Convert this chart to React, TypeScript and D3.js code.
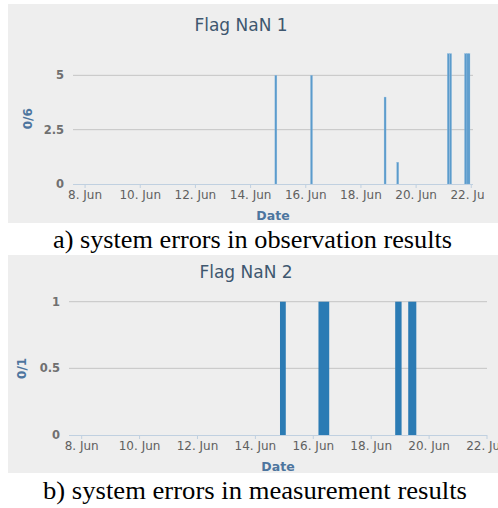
import React from "react";
import * as d3 from "d3";

// ---- data ----
const YEAR = 2016;
const MONTH = 5; // June (0-based)
const xTickDays = [8, 10, 12, 14, 16, 18, 20, 22];

// Chart 1: system errors in observation results (day, hour, count)
const obsDays = [14, 16, 18, 19, 21, 21, 21, 21, 21];
const obsHours = [22, 5, 21, 8, 4, 6, 19, 20.5, 22];
const obsValues = [5, 5, 4, 1, 6, 6, 6, 6, 6];
const obsYTicks = [0, 2.5, 5];

// Chart 2: system errors in measurement results (start/end as day + hour)
const measStartDays = [14, 16, 18, 19];
const measStartHours = [20.4, 4.3, 19.9, 6.7];
const measEndDays = [15, 16, 19, 19];
const measEndHours = [1.2, 13.2, 1.2, 13.4];
const measValues = [1, 1, 1, 1];
const measYTicks = [0, 0.5, 1];

const captions = [
  "a) system errors in observation results",
  "b) system errors in measurement results",
];
const titles = ["Flag NaN 1", "Flag NaN 2"];
const yTitles = ["0/6", "0/1"];

const dt = (d: number, h: number) => {
  const hh = Math.floor(h);
  const mm = Math.round((h - hh) * 60);
  return new Date(YEAR, MONTH, d, hh, mm);
};

const FONT = "'DejaVu Sans', Verdana, Arial, sans-serif";
const SERIF = "'Liberation Serif', 'Times New Roman', serif";
const fmt = d3.timeFormat("%-d. %b");

type PanelProps = {
  id: string;
  top: number;
  bottom: number;
  clipRight: number;
  x: d3.ScaleTime<number, number>;
  y: d3.ScaleLinear<number, number>;
  yTicks: number[];
  yFmt: (v: number) => string;
  title: string;
  titleX: number;
  titleY: number;
  yTitle: string;
  yTitleX: number;
  children: React.ReactNode;
};

function Panel(p: PanelProps) {
  const [x0, x1] = p.x.range();
  const y0 = p.y(0);
  const [, yTop] = p.y.range();
  const tickDates = xTickDays.map((d) => new Date(YEAR, MONTH, d));
  return (
    <g>
      <defs>
        <clipPath id={p.id}>
          <rect x={0} y={p.top} width={p.clipRight} height={p.bottom - p.top} />
        </clipPath>
      </defs>
      <rect x={8} y={p.top} width={490} height={p.bottom - p.top} fill="#eeeeee" />
      <text
        x={p.titleX}
        y={p.titleY}
        textAnchor="middle"
        fontFamily={FONT}
        fontSize={17}
        fill="#3e576f"
      >
        {p.title}
      </text>
      {p.yTicks
        .filter((t) => t !== 0)
        .map((t) => (
          <line key={t} x1={x0} x2={x1} y1={p.y(t)} y2={p.y(t)} stroke="#c4c4c4" strokeWidth={1} />
        ))}
      {p.yTicks.map((t) => (
        <text
          key={"l" + t}
          x={x0 - 9}
          y={p.y(t)}
          dy="0.35em"
          textAnchor="end"
          fontFamily={FONT}
          fontSize={11.5}
          fontWeight="bold"
          fill="#707070"
        >
          {p.yFmt(t)}
        </text>
      ))}
      <text
        transform={`translate(${p.yTitleX},${(y0 + yTop) / 2}) rotate(-90)`}
        textAnchor="middle"
        dy="0.35em"
        fontFamily={FONT}
        fontSize={12}
        fontWeight="bold"
        fill="#4d759e"
      >
        {p.yTitle}
      </text>
      {p.children}
      <line x1={x0} x2={x1} y1={y0 + 0.5} y2={y0 + 0.5} stroke="#c0d0e0" strokeWidth={1} />
      <g clipPath={`url(#${p.id})`}>
        {tickDates.map((d, i) => (
          <g key={i}>
            <line
              x1={p.x(d)}
              x2={p.x(d)}
              y1={y0}
              y2={y0 + 4}
              stroke="#c0d0e0"
              strokeWidth={1}
            />
            <text
              x={p.x(d)}
              y={y0 + 15}
              textAnchor="middle"
              fontFamily={FONT}
              fontSize={12}
              fill="#606060"
            >
              {fmt(d)}
            </text>
          </g>
        ))}
      </g>
      <text
        x={(x0 + x1) / 2}
        y={y0 + 36}
        textAnchor="middle"
        fontFamily={FONT}
        fontSize={12.5}
        fontWeight="bold"
        fill="#4d759e"
      >
        Date
      </text>
    </g>
  );
}

export default function App() {
  const x1 = d3
    .scaleTime()
    .domain([dt(7, 13.5), dt(22, 1.5)])
    .range([73, 473]);
  const y1 = d3.scaleLinear().domain([0, 6]).range([184, 53.6]);

  const x2 = d3
    .scaleTime()
    .domain([dt(7, 13.5), dt(22, 0)])
    .range([69, 487]);
  const y2 = d3.scaleLinear().domain([0, 1]).range([435, 301.7]);

  const barW = 2;

  return (
    <svg
      width={498}
      height={508}
      style={{ position: "absolute", left: 0, top: 0, display: "block" }}
    >
      <rect width={498} height={508} fill="#ffffff" />
      <Panel
        id="clipA"
        top={4}
        bottom={223}
        clipRight={484}
        x={x1}
        y={y1}
        yTicks={obsYTicks}
        yFmt={(v) => String(v)}
        title={titles[0]}
        titleX={241}
        titleY={31}
        yTitle={yTitles[0]}
        yTitleX={28}
      >
        {obsValues.map((v, i) => {
          const cx = x1(dt(obsDays[i], obsHours[i]));
          return (
            <rect
              key={i}
              x={cx - barW / 2}
              y={y1(v)}
              width={barW}
              height={y1(0) - y1(v)}
              fill="#5b9bcb"
              stroke="#8dbbe0"
              strokeWidth={0.3}
            />
          );
        })}
      </Panel>
      <text
        x={252.5}
        y={248}
        textAnchor="middle"
        fontFamily={SERIF}
        fontSize={25}
        textLength={399}
        lengthAdjust="spacingAndGlyphs"
        fill="#000"
      >
        {captions[0]}
      </text>

      <Panel
        id="clipB"
        top={255}
        bottom={473}
        clipRight={498}
        x={x2}
        y={y2}
        yTicks={measYTicks}
        yFmt={(v) => String(v)}
        title={titles[1]}
        titleX={246}
        titleY={278}
        yTitle={yTitles[1]}
        yTitleX={22}
      >
        {measValues.map((v, i) => {
          const xs = x2(dt(measStartDays[i], measStartHours[i]));
          const xe = x2(dt(measEndDays[i], measEndHours[i]));
          return (
            <rect
              key={i}
              x={xs}
              y={y2(v)}
              width={xe - xs}
              height={y2(0) - y2(v)}
              fill="#2b7bb4"
            />
          );
        })}
      </Panel>
      <text
        x={255}
        y={499}
        textAnchor="middle"
        fontFamily={SERIF}
        fontSize={25}
        textLength={424}
        lengthAdjust="spacingAndGlyphs"
        fill="#000"
      >
        {captions[1]}
      </text>
    </svg>
  );
}
